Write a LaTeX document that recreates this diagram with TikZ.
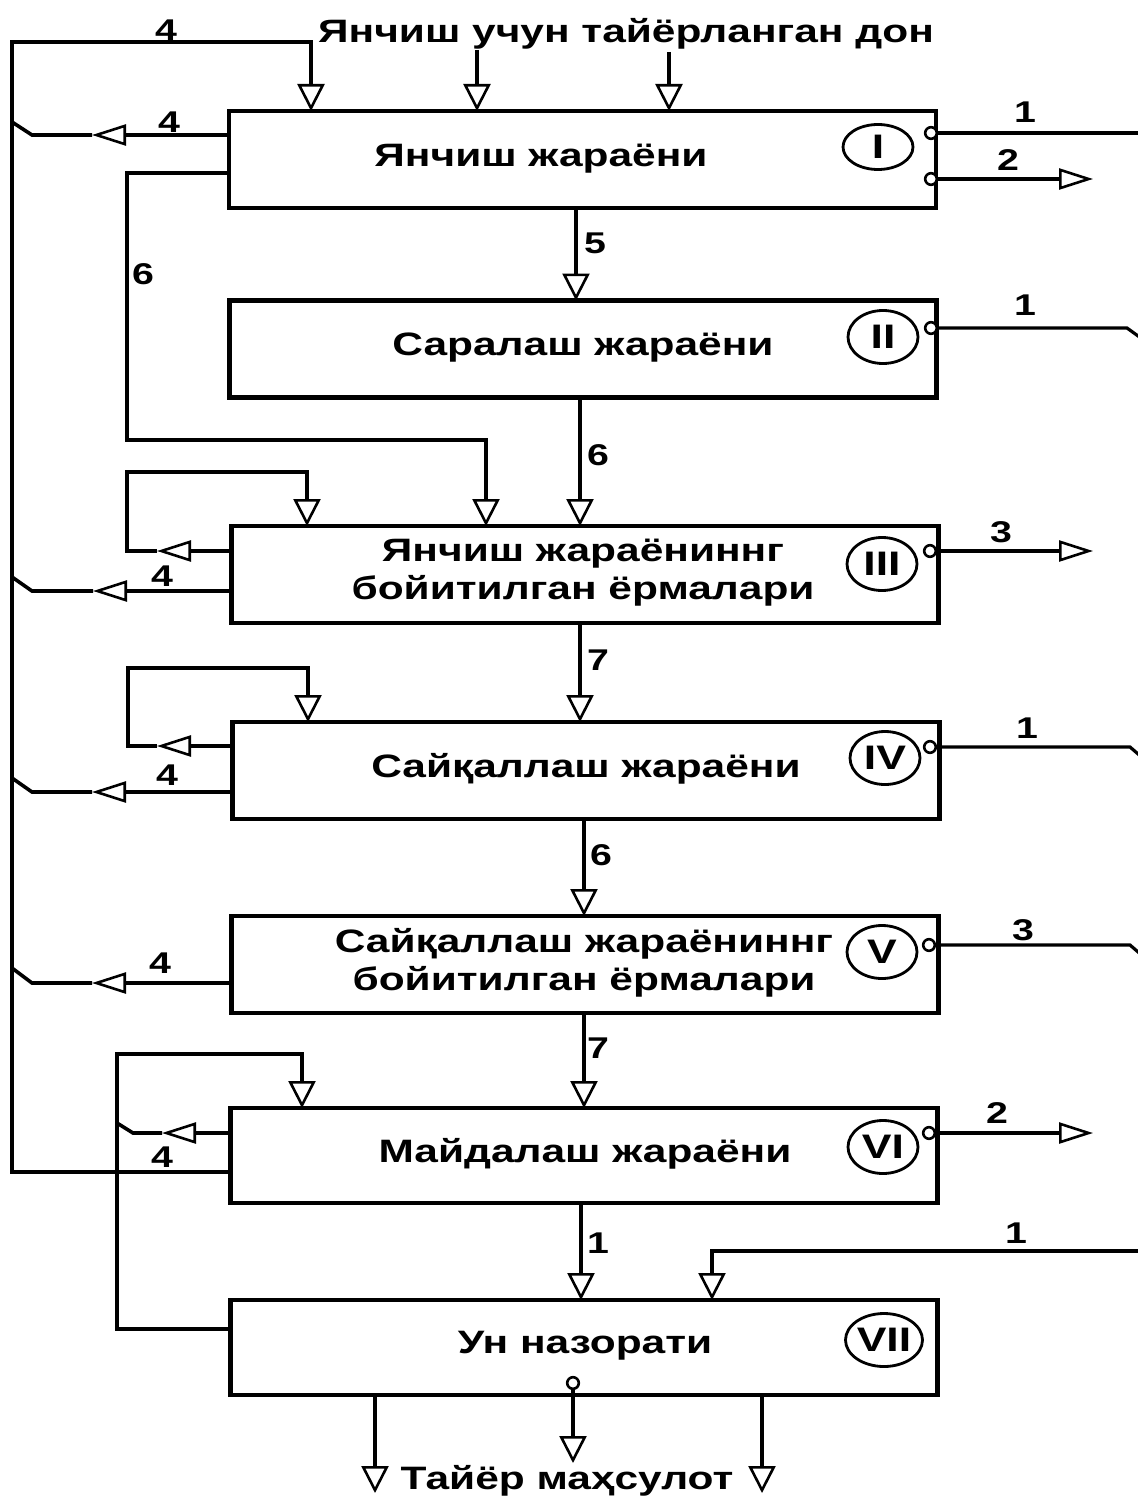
\documentclass[tikz,border=0pt]{standalone}
\usepackage{fontspec}
\setmainfont{Liberation Sans}[FakeStretch=1.31]
\usetikzlibrary{arrows.meta,shapes.geometric}
\tikzset{
 vt/.tip={Triangle[fill=white, length=13.5pt, width=13.5pt, line width=1.3pt]},
 ht/.tip={Triangle[fill=white, length=17pt, width=10.5pt, line width=1.3pt]},
 box/.style={draw, line width=2.4pt, inner sep=0pt, outer sep=0pt, minimum width=353.5pt, minimum height=48.5pt},
 ln/.style={line width=1.8pt},
 thn/.style={line width=1.6pt},
 txt/.style={font=\fontsize{16.2}{19}\selectfont\bfseries, inner sep=0pt, align=center},
 lab/.style={font=\fontsize{15}{17}\selectfont\bfseries, inner sep=0pt},
 rom/.style={draw, ellipse, line width=1.4pt, inner sep=0pt, minimum width=35pt, minimum height=26.5pt, font=\fontsize{17}{17}\selectfont\bfseries},
 port/.style={draw, circle, fill=white, line width=1.3pt, minimum size=5.8pt, inner sep=0pt},
}
\begin{document}
\begin{tikzpicture}[x=0.5pt,y=-0.5pt]
\useasboundingbox (0,0) rectangle (1138,1498);
% boxes
\node[box] (b1) at (582.5,159.5) {};
\node[box] (b2) at (583,349) {};
\node[box] (b3) at (585,574.5) {};
\node[box] (b4) at (586,770.5) {};
\node[box] (b5) at (585,964.5) {};
\node[box, minimum height=47.5pt] (b6) at (584,1155.5) {};
\node[box, minimum height=47.5pt] (b7) at (584,1347.5) {};
% texts
\node[txt] (title) at (626,34) {Янчиш учун тайёрланган дон};
\node[txt] (t1) at (541,159) {Янчиш жараёни};
\node[txt] (t2) at (583,348) {Саралаш жараёни};
\node[txt] (t3) at (583,573) {Янчиш жараёниннг\\бойитилган ёрмалари};
\node[txt] (t4) at (586,769) {Сайқаллаш жараёни};
\node[txt] (t5) at (584,963) {Сайқаллаш жараёниннг\\бойитилган ёрмалари};
\node[txt] (t6) at (585,1154) {Майдалаш жараёни};
\node[txt] (t7) at (585,1346) {Ун назорати};
\node[txt] (out) at (567,1481) {Тайёр маҳсулот};
% roman numerals
\node[rom, minimum height=22.5pt] (e1) at (878,147) {I};
\node[rom] (e2) at (883,337) {II};
\node[rom] (e3) at (882,564) {III};
\node[rom] (e4) at (885,758) {IV};
\node[rom] (e5) at (882,952) {V};
\node[rom] (e6) at (883,1147) {VI};
\node[rom] (e7) at (884,1340) {VII};
% ports
\node[port] (p1a) at (931,133) {};
\node[port] (p1b) at (931,179) {};
\node[port] (p2) at (931,328) {};
\node[port] (p3) at (930,551) {};
\node[port] (p4) at (930,747) {};
\node[port] (p5) at (929,945) {};
\node[port] (p6) at (929,1133) {};
\node[port] (p7) at (573,1383) {};
% main bus (4)
\draw[ln,-vt] (b6.west |- 0,1172) -- (12,1172) -- (12,42) -- (311,42) -- (311,0 |- b1.north);
\draw[ln,-vt] (477,50) -- (477,0 |- b1.north);
\draw[ln,-vt] (669,52) -- (669,0 |- b1.north);
% box I left
\draw[ln,-ht] (b1.west |- 0,135) -- (92,135);
\draw[ln] (92,135) -- (32,135) -- (12,122);
\draw[ln,-vt] (b1.west |- 0,173) -- (127,173) -- (127,440) -- (486,440) -- (486,0 |- b3.north);
% box I right
\draw[thn] (p1a.east) -- (1145,133);
\draw[thn,-ht] (p1b.east) -- (1093,179);
% I -> II
\draw[ln,-vt] (576,0 |- b1.south) -- (576,0 |- b2.north);
% II right
\draw[thn] (p2.east) -- (1127,328) -- (1145,341);
% II -> III
\draw[ln,-vt] (580,0 |- b2.south) -- (580,0 |- b3.north);
% III loops
\draw[ln,-ht] (b3.west |- 0,551) -- (157,551);
\draw[ln,-vt] (157,551) -- (127,551) -- (127,472) -- (307,472) -- (307,0 |- b3.north);
\draw[ln,-ht] (b3.west |- 0,591) -- (93,591);
\draw[ln] (93,591) -- (32,591) -- (12,577);
\draw[thn,-ht] (p3.east) -- (1093,551);
% III -> IV
\draw[ln,-vt] (580,0 |- b3.south) -- (580,0 |- b4.north);
% IV loops
\draw[ln,-ht] (b4.west |- 0,746) -- (157,746);
\draw[ln,-vt] (157,746) -- (128,746) -- (128,668) -- (308,668) -- (308,0 |- b4.north);
\draw[ln,-ht] (b4.west |- 0,792) -- (92,792);
\draw[ln] (92,792) -- (32,792) -- (12,778);
\draw[thn] (p4.east) -- (1130,747) -- (1145,760);
% IV -> V
\draw[ln,-vt] (584,0 |- b4.south) -- (584,0 |- b5.north);
% V
\draw[ln,-ht] (b5.west |- 0,983) -- (92,983);
\draw[ln] (92,983) -- (32,983) -- (12,968);
\draw[thn] (p5.east) -- (1130,945) -- (1145,958);
% V -> VI
\draw[ln,-vt] (584,0 |- b5.south) -- (584,0 |- b6.north);
% VI
\draw[ln,-vt] (b7.west |- 0,1329) -- (117,1329) -- (117,1054) -- (302,1054) -- (302,0 |- b6.north);
\draw[ln,-ht] (b6.west |- 0,1133) -- (162,1133);
\draw[ln] (162,1133) -- (133,1133) -- (117,1123);
\draw[thn,-ht] (p6.east) -- (1093,1133);
% VI -> VII
\draw[ln,-vt] (581,0 |- b6.south) -- (581,0 |- b7.north);
\draw[thn,-vt] (1145,1251) -- (712,1251) -- (712,0 |- b7.north);
% VII outputs
\draw[ln,-vt] (375,0 |- b7.south) -- (375,1493);
\draw[ln,-vt] (762,0 |- b7.south) -- (762,1493);
\draw[ln,-vt] (p7.south) -- (573,1463);
% labels
\node[lab] (l1) at (166,30) {4};
\node[lab] (l2) at (169,122) {4};
\node[lab] (l3) at (143,274) {6};
\node[lab] (l4) at (1025,112) {1};
\node[lab] (l5) at (1008,160) {2};
\node[lab] (l6) at (595,243) {5};
\node[lab] (l7) at (1025,305) {1};
\node[lab] (l8) at (598,455) {6};
\node[lab] (l9) at (162,576) {4};
\node[lab] (l10) at (1001,532) {3};
\node[lab] (l11) at (598,660) {7};
\node[lab] (l12) at (167,775) {4};
\node[lab] (l13) at (1027,728) {1};
\node[lab] (l14) at (601,855) {6};
\node[lab] (l15) at (160,963) {4};
\node[lab] (l16) at (1023,930) {3};
\node[lab] (l17) at (598,1048) {7};
\node[lab] (l18) at (162,1157) {4};
\node[lab] (l19) at (997,1113) {2};
\node[lab] (l20) at (598,1243) {1};
\node[lab] (l21) at (1016,1233) {1};
\end{tikzpicture}
\end{document}
